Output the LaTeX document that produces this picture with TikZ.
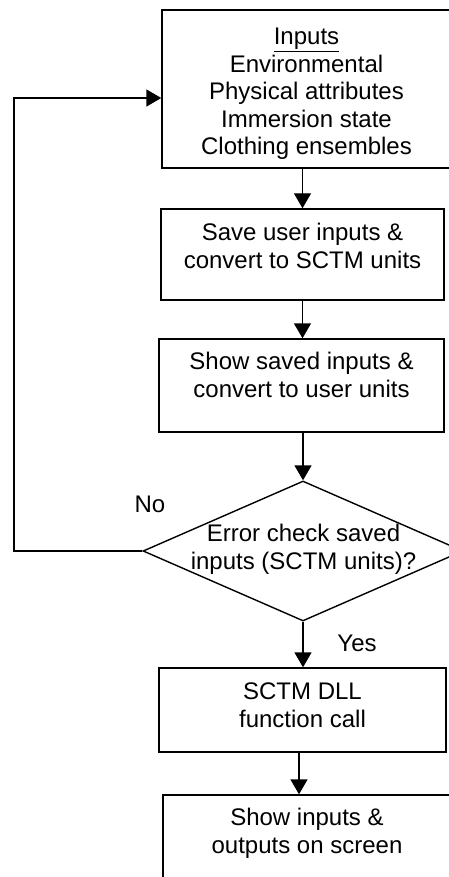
\documentclass[tikz,border=0pt]{standalone}
\usepackage{fontspec}
\setmainfont{Liberation Sans}
\usetikzlibrary{arrows.meta,shapes.geometric}
\begin{document}
\begin{tikzpicture}[x=1pt,y=-1pt,
  line width=1.4pt,
  box/.style={draw, rectangle, inner sep=0pt},
  txt/.style={inner sep=0pt, align=center, font=\fontsize{24}{27.5}\selectfont},
  arr/.style={-{Triangle[length=15pt,width=17pt]}}]
\useasboundingbox (0,0) rectangle (449,877);
\clip (0,0) rectangle (449,877);
% boxes
\node[box, minimum width=289pt, minimum height=158pt] (b1) at (306.5,89) {};
\node[box, minimum width=283pt, minimum height=91pt] (b2) at (302.5,254.5) {};
\node[box, minimum width=285pt, minimum height=93pt] (b3) at (301.5,385.5) {};
\node[draw, diamond, inner sep=0pt, minimum width=320pt, minimum height=140pt] (d) at (303,551) {};
\node[box, minimum width=287pt, minimum height=84pt] (b4) at (302.5,710) {};
\node[box, minimum width=288pt, minimum height=90pt] (b5) at (307,840) {};
% texts (anchor base = last line baseline)
\node[txt, anchor=base] (t1) at (306.5,155) {\underline{Inputs}\\Environmental\\Physical attributes\\Immersion state\\Clothing ensembles};
\node[txt, anchor=base] (t2) at (302.5,268) {Save user inputs \&\\convert to SCTM units};
\node[txt, anchor=base] (t3) at (301.5,397) {Show saved inputs \&\\convert to user units};
\node[txt, anchor=base] (td) at (303.5,569) {Error check saved\\inputs (SCTM units)?};
\node[txt, anchor=base] (t4) at (302.5,727) {SCTM DLL\\function call};
\node[txt, anchor=base] (t5) at (307,853) {Show inputs \&\\outputs on screen};
\node[txt, anchor=base] (no) at (150,512) {No};
\node[txt, anchor=base] (yes) at (357,651) {Yes};
% connectors
\draw[arr] (b2.north |- b1.south) -- (b2.north);
\draw[arr] (b2.south) -- (b2.south |- b3.north);
\draw[arr] (d.north |- b3.south) -- (d.north);
\draw[arr] (d.south) -- (d.south |- b4.north);
\coordinate (bs) at ([xshift=-3.5pt]b4.south);
\draw[arr] (bs) -- (bs |- b5.north);
\coordinate (lb) at (14,551);
\coordinate (lt) at (14,98);
\draw[arr] (d.west) -- (lb) -- (lt) -- (lt -| b1.west);
\end{tikzpicture}
\end{document}
